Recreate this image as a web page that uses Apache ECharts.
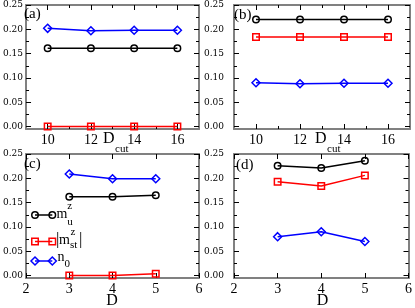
<!DOCTYPE html>
<html><head><meta charset="utf-8">
<script src="https://cdn.jsdelivr.net/npm/echarts@6/dist/echarts.min.js"></script>
<style>html,body{margin:0;padding:0;background:#fff}#c{width:415px;height:308px}</style>
</head><body><div id="c"></div>
<script>
// ---- data ----
const dcut = [10, 12, 14, 16];
const dvals = [3, 4, 5];
const a_mu  = [0.161, 0.161, 0.161, 0.161];
const a_mst = [0.000, 0.000, 0.000, 0.000];
const a_n0  = [0.202, 0.197, 0.198, 0.198];
const b_mu  = [0.220, 0.220, 0.220, 0.220];
const b_mst = [0.184, 0.184, 0.184, 0.184];
const b_n0  = [0.090, 0.088, 0.089, 0.089];
const c_mu  = [0.162, 0.162, 0.165];
const c_mst = [0.000, 0.000, 0.0035];
const c_n0  = [0.209, 0.199, 0.199];
const d_mu  = [0.226, 0.221, 0.236];
const d_mst = [0.193, 0.184, 0.206];
const d_n0  = [0.080, 0.090, 0.070];
const yTicks = [0, 0.05, 0.10, 0.15, 0.20, 0.25];
const yMinor = [0.025, 0.075, 0.125, 0.175, 0.225];
const dcutTicks = [10, 12, 14, 16];
const dcutMinor = [11, 13, 15];
const dTicks = [2, 3, 4, 5, 6];
// ---- layout ----
const GRIDS = [
  {left: 23, top: 5, width: 176, height: 124},
  {left: 234, top: 5, width: 176, height: 124},
  {left: 23, top: 154, width: 176, height: 124},
  {left: 234, top: 154, width: 176, height: 124}
];
const panels = [
  {x: dcut, xmin: 9, xmax: 17, xt: dcutTicks, xm: dcutMinor, mu: a_mu, mst: a_mst, n0: a_n0, ylm: 3},
  {x: dcut, xmin: 9, xmax: 17, xt: dcutTicks, xm: dcutMinor, mu: b_mu, mst: b_mst, n0: b_n0, ylm: 10},
  {x: dvals, xmin: 2, xmax: 6, xt: dTicks, xm: null, mu: c_mu, mst: c_mst, n0: c_n0, ylm: 3},
  {x: dvals, xmin: 2, xmax: 6, xt: dTicks, xm: null, mu: d_mu, mst: d_mst, n0: d_n0, ylm: 10}
];
const FRAME = {color: '#808080', width: 2};
const SERIF = '"Liberation Serif", "Times New Roman", serif';

const xAxis = [], yAxis = [], series = [];
panels.forEach((p, i) => {
  const mk = (pos, minor, labels) => ({
    type: 'value', gridIndex: i, min: p.xmin, max: p.xmax, position: pos,
    axisLine: {show: !minor, onZero: false, lineStyle: FRAME},
    axisTick: {show: !minor || !!p.xm, inside: true, length: minor ? 3 : 5,
      lineStyle: {color: '#000', width: 1}, customValues: minor ? (p.xm || []) : p.xt},
    axisLabel: {show: labels, customValues: p.xt, margin: 4, color: '#000',
      fontFamily: SERIF, fontSize: 14},
    splitLine: {show: false}
  });
  xAxis.push(mk('bottom', false, true), mk('bottom', true, false), mk('top', false, false), mk('top', true, false));
  const mky = (pos, minor, labels) => ({
    type: 'value', gridIndex: i, min: -0.005, max: 0.25, position: pos,
    axisLine: {show: !minor, onZero: false, lineStyle: FRAME},
    axisTick: {show: true, inside: true, length: minor ? 3 : 5,
      lineStyle: {color: '#000', width: 1}, customValues: minor ? yMinor : yTicks},
    axisLabel: {show: labels, customValues: yTicks, margin: p.ylm, color: '#000',
      fontFamily: '"DejaVu Serif", serif', fontSize: 9,
      formatter: v => Number(v).toFixed(2)},
    splitLine: {show: false}
  });
  yAxis.push(mky('left', false, true), mky('left', true, false), mky('right', false, false), mky('right', true, false));
  const defs = [
    {vals: p.mu, color: '#000000', symbol: 'circle', size: 6.5},
    {vals: p.mst, color: '#ff0000', symbol: 'rect', size: 6.5},
    {vals: p.n0, color: '#0000ff', symbol: 'diamond', size: 8}
  ];
  defs.forEach(d => {
    series.push({
      type: 'line', xAxisIndex: i * 4, yAxisIndex: i * 4,
      data: p.x.map((x, k) => [x, d.vals[k]]),
      symbol: d.symbol, symbolSize: d.size, showAllSymbol: true,
      lineStyle: {color: d.color, width: 1.5},
      itemStyle: {color: 'rgba(0,0,0,0)', borderColor: d.color, borderWidth: 1.5},
      emphasis: {disabled: true}, silent: true, animation: false
    });
  });
});

function txt(x, y, s, size, align) {
  return {type: 'text', x: x, y: y, silent: true, z: 100,
    style: {text: s, font: size + 'px ' + SERIF, fill: '#000',
      align: align || 'left', verticalAlign: 'middle',
      textAlign: align || 'left', textVerticalAlign: 'middle'}};
}
const graphic = [];
// panel labels
graphic.push(txt(24, 14, '(a)', 15), txt(234, 15, '(b)', 15), txt(24, 164, '(c)', 15), txt(236, 165, '(d)', 15));
// axis titles
graphic.push(txt(103, 139, 'D', 16), txt(115, 149, 'cut', 11));
graphic.push(txt(315, 139, 'D', 16), txt(327, 149, 'cut', 11));
graphic.push(txt(112, 301, 'D', 16, 'center'), txt(322.5, 301, 'D', 16, 'center'));
// legend (panel c)
const legRows = [
  {y: 215, color: '#000000', sym: 'circle'},
  {y: 241.5, color: '#ff0000', sym: 'rect'},
  {y: 261, color: '#0000ff', sym: 'diamond'}
];
legRows.forEach(r => {
  graphic.push({type: 'line', silent: true, z: 100, shape: {x1: 35, y1: r.y, x2: 52.3, y2: r.y},
    style: {stroke: r.color, lineWidth: 1.5}});
  [35, 52.3].forEach(cx => {
    let el;
    if (r.sym === 'circle') el = {type: 'circle', shape: {cx: cx, cy: r.y, r: 3.25}};
    else if (r.sym === 'rect') el = {type: 'rect', shape: {x: cx - 3.25, y: r.y - 3.25, width: 6.5, height: 6.5}};
    else el = {type: 'polygon', shape: {points: [[cx, r.y - 4], [cx + 4, r.y], [cx, r.y + 4], [cx - 4, r.y]]}};
    el.silent = true; el.z = 101;
    el.style = {fill: 'rgba(0,0,0,0)', stroke: r.color, lineWidth: 1.5};
    graphic.push(el);
  });
});
graphic.push(txt(56.5, 214.5, 'm', 14), txt(67.3, 206.5, 'z', 11), txt(67.3, 222.5, 'u', 11));
graphic.push(txt(56, 239.5, '|', 17), txt(59, 240.5, 'm', 14), txt(70.5, 232.5, 'z', 11), txt(70, 245.5, 'st', 11), txt(79, 239.5, '|', 17));
graphic.push(txt(57.5, 257.5, 'n', 14), txt(64.5, 264, '0', 11));

const chart = echarts.init(document.getElementById('c'), null, {renderer: 'canvas'});
chart.setOption({
  animation: false,
  backgroundColor: '#fff',
  grid: GRIDS,
  xAxis: xAxis,
  yAxis: yAxis,
  series: series,
  graphic: graphic
});
</script></body></html>
